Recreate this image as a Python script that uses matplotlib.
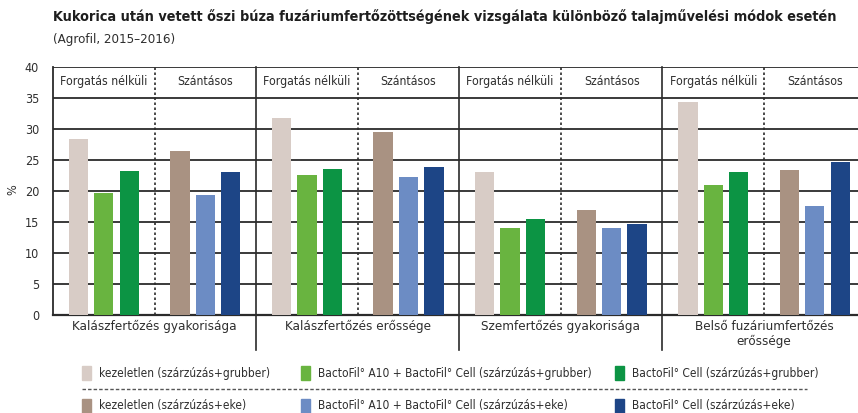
import matplotlib.pyplot as plt
from matplotlib.patches import Rectangle
from matplotlib.lines import Line2D

plt.rcParams['font.family'] = ['DejaVu Sans']
plt.rcParams['font.stretch'] = 'condensed'

# data
groups = ['Kalászfertőzés gyakorisága', 'Kalászfertőzés erőssége',
          'Szemfertőzés gyakorisága', 'Belső fuzáriumfertőzés\nerőssége']
subgroups = ['Forgatás nélküli', 'Szántásos']
series = ['kezeletlen (szárzúzás+grubber)',
          'BactoFil° A10 + BactoFil° Cell (szárzúzás+grubber)',
          'BactoFil° Cell (szárzúzás+grubber)',
          'kezeletlen (szárzúzás+eke)',
          'BactoFil° A10 + BactoFil° Cell (szárzúzás+eke)',
          'BactoFil° Cell (szárzúzás+eke)']
colors = ['#d8ccc6', '#69b440', '#0c9444', '#a99282', '#6c8cc4', '#1d4586']

# values per series, one per group
kezeletlen_grubber = [28.4, 31.8, 23.0, 34.3]
a10_cell_grubber = [19.6, 22.5, 14.1, 20.9]
cell_grubber = [23.3, 23.5, 15.5, 23.0]
kezeletlen_eke = [26.5, 29.5, 16.9, 23.4]
a10_cell_eke = [19.4, 22.2, 14.0, 17.6]
cell_eke = [23.0, 23.8, 14.6, 24.6]
values = [kezeletlen_grubber, a10_cell_grubber, cell_grubber,
          kezeletlen_eke, a10_cell_eke, cell_eke]

fig = plt.figure(figsize=(8.58, 4.13), dpi=100)
ax = fig.add_axes([53 / 858, 1 - 315 / 413, 805 / 858, 248 / 413])

line_c = '#2b2b2b'
text_c = '#2e2e2e'
xmax = 31.7
ax.set_xlim(0, xmax)
ax.set_ylim(0, 40)

# horizontal grid
for y in range(5, 41, 5):
    ax.axhline(y, color=line_c, lw=1.3, zorder=1)

for g in range(4):
    for s in range(6):
        sub = s // 3
        x = g * 8 + sub * 4 + 1 + (s % 3)
        ax.bar(x, values[s][g], width=0.76, color=colors[s], zorder=3)
    # dashed subgroup separators
    ax.plot([g * 8 + 4, g * 8 + 4], [0, 40], color=line_c, lw=1.2,
            ls=(0, (1.5, 1.5)), zorder=2)
    # solid group separators
    if g > 0:
        ax.plot([g * 8, g * 8], [-5.7, 40], color=line_c, lw=1.2,
                zorder=2, clip_on=False)
    for k, name in enumerate(subgroups):
        ax.text(g * 8 + k * 4 + 2, 37.6, name, ha='center', va='center',
                fontsize=8.8, color=text_c)
    ax.text(g * 8 + 4, -0.8, groups[g], ha='center', va='top',
            fontsize=9.6, color=text_c, linespacing=1.2)

for side in ['top', 'right']:
    ax.spines[side].set_visible(False)
ax.spines['left'].set_color(line_c)
ax.spines['bottom'].set_color(line_c)
ax.spines['left'].set_linewidth(1.3)
ax.spines['bottom'].set_linewidth(1.6)
ax.set_xticks([])
ax.set_yticks(range(0, 41, 5))
ax.tick_params(axis='y', length=0, pad=10, labelsize=9, labelcolor=text_c)
fig.text(13 / 858, 1 - 190 / 413, '%', fontsize=9, color=text_c,
         rotation=90, ha='center', va='center')

fig.text(53 / 858, 1 - 17 / 413, 'Kukorica után vetett őszi búza fuzáriumfertőzöttségének '
         'vizsgálata különböző talajművelési módok esetén',
         fontsize=10.4, fontweight='bold', color='#1e1e1e', va='center')
fig.text(53 / 858, 1 - 39 / 413, '(Agrofil, 2015–2016)', fontsize=9.5,
         color=text_c, va='center')

# legend, drawn manually
patch_x = [82, 301, 615]
rows_y = [373, 406]
for s in range(6):
    r, c = divmod(s, 3)
    px = patch_x[c]
    py = rows_y[r]
    fig.patches.append(Rectangle((px / 858, 1 - (py + 7) / 413), 9 / 858, 14 / 413,
                                 transform=fig.transFigure, color=colors[s]))
    fig.text((px + 17) / 858, 1 - py / 413, series[s], fontsize=8.6,
             color=text_c, va='center')
fig.lines.append(Line2D([82 / 858, 807 / 858], [1 - 389 / 413] * 2,
                        transform=fig.transFigure, color='#555555', lw=1,
                        ls=(0, (2.5, 1.5))))

fig.savefig('out.png', dpi=100)
